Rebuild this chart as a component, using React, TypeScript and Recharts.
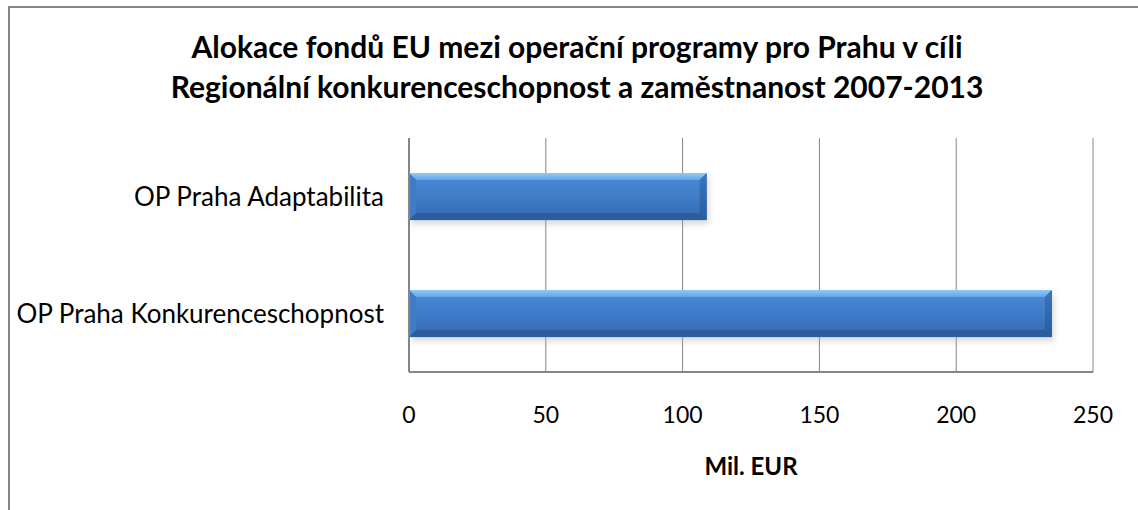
import React from 'react';
import { BarChart, Bar, XAxis, YAxis, CartesianGrid, Label } from 'recharts';

const categories = ['OP Praha Adaptabilita', 'OP Praha Konkurenceschopnost'];
const allocation = [108.8, 235];
const xTicks = [0, 50, 100, 150, 200, 250];

const titleLines = [
  'Alokace fondů EU mezi operační programy pro Prahu v cíli',
  'Regionální konkurenceschopnost a zaměstnanost 2007-2013',
];
const axisTitle = 'Mil. EUR';

const data = categories.map((name, i) => ({ name, value: allocation[i] }));

const FONT = 'Lato, "Liberation Sans", sans-serif';
const GRID = '#868686';

// bevelled blue bar, like the old Office 2007 style
const BevelBar = (props: any) => {
  const { x, y, width: w, height: h } = props;
  if (!w || !h) return null;
  const b = Math.min(7, h / 4, w / 2);
  return (
    <g>
      <rect x={x + 2} y={y + 4} width={w} height={h} fill="#a8a8a8" opacity={0.45} filter="url(#barShadow)" />
      <rect x={x} y={y} width={w} height={h} fill="url(#barBody)" />
      <polygon points={`${x},${y} ${x + w},${y} ${x + w - b},${y + b} ${x + b},${y + b}`} fill="url(#barTop)" />
      <polygon points={`${x},${y + h} ${x + w},${y + h} ${x + w - b},${y + h - b} ${x + b},${y + h - b}`} fill="#2c5c9e" />
      <polygon points={`${x + w},${y} ${x + w},${y + h} ${x + w - b},${y + h - b} ${x + w - b},${y + b}`} fill="url(#barRight)" />
      <polygon points={`${x},${y} ${x},${y + h} ${x + b},${y + h - b} ${x + b},${y + b}`} fill="#3f7cc6" />
    </g>
  );
};

export default function App() {
  return (
    <div style={{ position: 'absolute', left: 0, top: 0, width: 1138, height: 510, background: '#fff', fontFamily: FONT, overflow: 'hidden' }}>
      <div
        style={{
          position: 'absolute', left: 8, top: 6, width: 1140, height: 520,
          borderTop: `2px solid ${GRID}`, borderLeft: `2px solid ${GRID}`, boxSizing: 'border-box',
        }}
      />
      <div
        style={{
          position: 'absolute', left: 10, width: 1134, top: 26, textAlign: 'center',
          fontWeight: 700, fontSize: 30, lineHeight: '40px', color: '#000',
        }}
      >
        {titleLines.map(t => <div key={t}>{t}</div>)}
      </div>
      <div style={{ position: 'absolute', left: 0, top: 0 }}>
        <BarChart
          width={1138}
          height={510}
          data={data}
          layout="vertical"
          barCategoryGap="30%"
          margin={{ top: 138, right: 45, left: 0, bottom: 58 }}
        >
          <defs>
            <linearGradient id="barBody" x1="0" y1="0" x2="0" y2="1">
              <stop offset="0%" stopColor="#4a8ad6" />
              <stop offset="50%" stopColor="#3f7dc8" />
              <stop offset="100%" stopColor="#3468b0" />
            </linearGradient>
            <linearGradient id="barTop" x1="0" y1="0" x2="0" y2="1">
              <stop offset="0%" stopColor="#8ecbf8" />
              <stop offset="100%" stopColor="#62a4e6" />
            </linearGradient>
            <linearGradient id="barRight" x1="0" y1="0" x2="0" y2="1">
              <stop offset="0%" stopColor="#3a75c0" />
              <stop offset="100%" stopColor="#2b5b9c" />
            </linearGradient>
            <filter id="barShadow" x="-5%" y="-30%" width="110%" height="160%">
              <feGaussianBlur stdDeviation="3" />
            </filter>
          </defs>
          <CartesianGrid horizontal={false} stroke={GRID} strokeWidth={1} />
          <XAxis
            type="number"
            domain={[0, 250]}
            ticks={xTicks}
            tickLine={false}
            axisLine={{ stroke: GRID, strokeWidth: 2 }}
            tick={{ fill: '#000', fontSize: 23, fontFamily: FONT }}
            tickMargin={29}
            height={80}
          >
            <Label value={axisTitle} position="bottom" offset={6} style={{ fill: '#000', fontWeight: 700, fontSize: 24, fontFamily: FONT }} />
          </XAxis>
          <YAxis
            type="category"
            dataKey="name"
            width={409}
            tickLine={false}
            axisLine={{ stroke: GRID, strokeWidth: 2 }}
            tick={{ fill: '#000', fontSize: 26, fontFamily: FONT }}
            tickMargin={19}
          />
          <Bar dataKey="value" shape={<BevelBar />} isAnimationActive={false} />
        </BarChart>
      </div>
    </div>
  );
}
